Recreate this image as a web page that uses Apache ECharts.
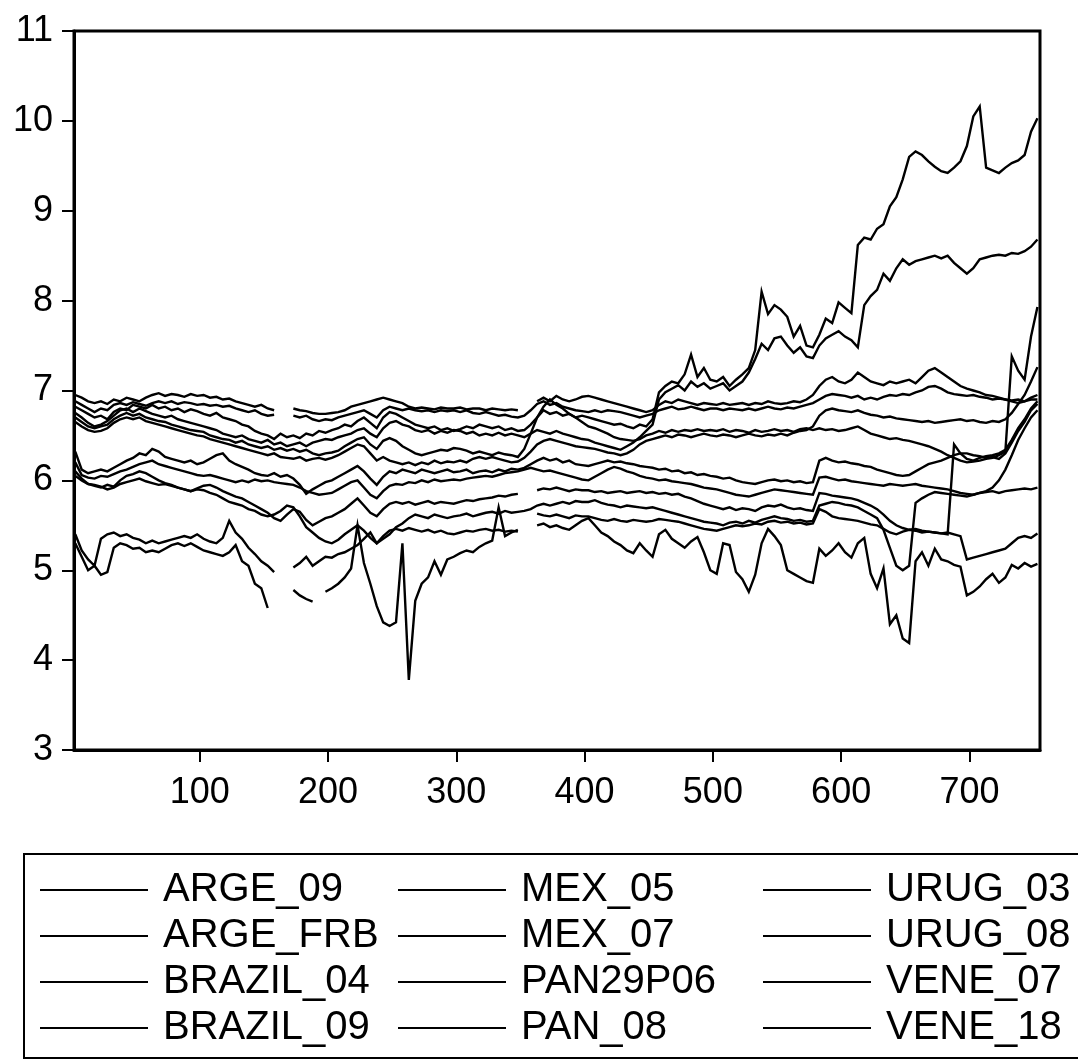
<!DOCTYPE html>
<html>
<head>
<meta charset="utf-8">
<script src="https://cdn.jsdelivr.net/npm/echarts@6/dist/echarts.min.js"></script>
<style>
  html, body { margin: 0; padding: 0; background: #fff; }
  #chart { width: 1078px; height: 1064px; }
</style>
</head>
<body>
<div id="chart"></div>
<script>
// Daily observations, sampled every 5th observation starting at obs 3.
const OBS_START = 3;
const OBS_STEP = 5;

const xTicks = [100, 200, 300, 400, 500, 600, 700];
const yTicks = [3, 4, 5, 6, 7, 8, 9, 10, 11];

const legendColumns = [
  ['ARGE_09', 'ARGE_FRB', 'BRAZIL_04', 'BRAZIL_09'],
  ['MEX_05', 'MEX_07', 'PAN29P06', 'PAN_08'],
  ['URUG_03', 'URUG_08', 'VENE_07', 'VENE_18']
];

const ARGE_09 = [
  6.75, 6.70, 6.64, 6.60, 6.62, 6.66, 6.72, 6.78, 6.80, 6.76,
  6.80, 6.77, 6.74, 6.72, 6.70, 6.72, 6.68, 6.66, 6.64, 6.62,
  6.60, 6.58, 6.56, 6.52, 6.50, 6.48, 6.50, 6.46, 6.44, 6.42,
  6.45, 6.40, 6.42, 6.38, 6.40, 6.42, 6.38, 6.42, 6.44, 6.46,
  6.45, 6.48, 6.50, 6.52, 6.56, 6.58, 6.52, 6.48, 6.58, 6.64,
  6.66, 6.62, 6.60, 6.56, 6.54, 6.56, 6.52, 6.55, 6.53, 6.56,
  6.55, 6.52, 6.54, 6.50, 6.52, 6.50, 6.53, 6.50, 6.52, 6.50,
  6.48, 6.52, 6.56, 6.54, 6.52, 6.55, 6.52, 6.50, 6.48, 6.46,
  6.45, 6.42, 6.40, 6.38, 6.36, 6.34, 6.38, 6.42, 6.48, 6.55,
  6.62, 6.90, 6.98, 7.02, 7.06, 7.00, 7.10, 7.04, 7.08, 7.02,
  7.05, 7.08, 7.00, 7.05, 7.10, 7.20, 7.35, 7.52, 7.45, 7.58,
  7.60, 7.50, 7.42, 7.48, 7.38, 7.36, 7.50, 7.58, 7.62, 7.66,
  7.60, 7.56, 7.48, 7.95, 8.05, 8.12, 8.30, 8.22, 8.36, 8.46,
  8.40, 8.44, 8.46, 8.48, 8.50, 8.47, 8.50, 8.42, 8.36, 8.30,
  8.36, 8.46, 8.48, 8.50, 8.51, 8.50, 8.53, 8.52, 8.55, 8.60, 8.68
];

const ARGE_FRB = [
  6.82, 6.78, 6.74, 6.70, 6.72, 6.68, 6.76, 6.80, 6.78, 6.84,
  6.82, 6.80, 6.84, 6.80, 6.82, 6.78, 6.80, 6.76, 6.79, 6.77,
  6.74, 6.72, 6.75, 6.70, 6.68, 6.66, 6.62, 6.60, 6.55, 6.52,
  6.50, 6.46, 6.52, 6.48, 6.50, 6.47, 6.52, 6.50, 6.55, 6.53,
  6.56, 6.58, 6.62, 6.60, 6.66, 6.70, 6.64, 6.58, 6.70, 6.76,
  6.74, 6.70, 6.66, 6.62, 6.60, 6.58, 6.60, 6.56, 6.58, 6.55,
  6.57, 6.60, 6.58, 6.62, 6.60, 6.58, 6.60, 6.56, 6.58, 6.55,
  6.56, 6.62, 6.70, 6.78, 6.74, 6.76, 6.72, 6.74, 6.70, 6.72,
  6.70, 6.68, 6.66, 6.64, 6.62, 6.63, 6.60, 6.58, 6.62, 6.60,
  6.68, 6.98, 7.05, 7.10, 7.08, 7.18, 7.40, 7.15, 7.25, 7.12,
  7.10, 7.15, 7.05, 7.12, 7.18, 7.25, 7.45, 8.10, 7.85, 7.95,
  7.90, 7.82, 7.60, 7.72, 7.50, 7.48, 7.62, 7.80, 7.75, 7.98,
  7.92, 7.86, 8.62, 8.70, 8.68, 8.80, 8.85, 9.05, 9.15, 9.35,
  9.60, 9.66, 9.62, 9.55, 9.49, 9.44, 9.42, 9.48, 9.55, 9.72,
  10.05, 10.16, 9.48, 9.45, 9.42, 9.48, 9.53, 9.56, 9.62, 9.88, 10.03
];

const BRAZIL_04 = [
  6.65, 6.60, 6.56, 6.54, 6.55, 6.58, 6.64, 6.68, 6.70, 6.68,
  6.70, 6.66, 6.64, 6.62, 6.60, 6.58, 6.56, 6.54, 6.52, 6.50,
  6.49, 6.46, 6.44, 6.42, 6.40, 6.38, 6.36, 6.34, 6.32, 6.30,
  6.28, 6.30, 6.26, 6.25, 6.24, 6.26, 6.22, 6.24, 6.25, 6.23,
  6.25, 6.28, 6.32, 6.36, 6.40, 6.38, 6.30, 6.22, 6.26, 6.22,
  6.20, 6.18, 6.20, 6.17, 6.20, 6.18, 6.22, 6.19, 6.21, 6.20,
  6.22, 6.20, 6.24, 6.26, 6.24, 6.26, 6.24, 6.22, 6.20, 6.21,
  6.25, 6.32, 6.40, 6.44, 6.46, 6.44, 6.42, 6.40, 6.38, 6.37,
  6.36, 6.35, 6.33, 6.31, 6.30, 6.28, 6.30, 6.34, 6.40, 6.44,
  6.46, 6.48, 6.50, 6.48, 6.51, 6.50, 6.48, 6.50, 6.52, 6.50,
  6.49, 6.51, 6.50, 6.48, 6.50, 6.52, 6.50, 6.49, 6.51, 6.50,
  6.52, 6.50, 6.53, 6.55, 6.56, 6.60, 6.72, 6.78, 6.80, 6.78,
  6.77, 6.76, 6.78, 6.75, 6.73, 6.72, 6.70, 6.71, 6.69, 6.68,
  6.67, 6.66, 6.65, 6.66, 6.64, 6.65, 6.66, 6.67, 6.68, 6.66,
  6.67, 6.65, 6.64, 6.66, 6.65, 6.68, 6.75, 6.85, 6.95, 7.10, 7.26
];

const BRAZIL_09 = [
  6.70, 6.65, 6.60, 6.58, 6.60, 6.62, 6.68, 6.72, 6.75, 6.72,
  6.74, 6.70, 6.68, 6.66, 6.65, 6.62, 6.60, 6.58, 6.56, 6.55,
  6.54, 6.50, 6.48, 6.46, 6.45, 6.42, 6.44, 6.40, 6.38, 6.36,
  6.38, 6.34, 6.36, 6.33, 6.35, 6.32, 6.34, 6.30, 6.28, 6.30,
  6.31, 6.33, 6.38, 6.42, 6.46, 6.48, 6.40, 6.35, 6.44, 6.47,
  6.44, 6.38, 6.34, 6.30, 6.28, 6.30, 6.32, 6.34, 6.33, 6.36,
  6.35, 6.33, 6.30, 6.32, 6.30, 6.28, 6.31, 6.29, 6.28, 6.26,
  6.35, 6.52, 6.70, 6.82, 6.90, 6.84, 6.80, 6.74, 6.70, 6.65,
  6.60, 6.58, 6.55, 6.52, 6.48, 6.46, 6.45, 6.44, 6.46, 6.50,
  6.52, 6.55, 6.53, 6.56, 6.54, 6.56, 6.55, 6.57, 6.55, 6.56,
  6.55, 6.57, 6.54, 6.56, 6.55, 6.53, 6.56, 6.54, 6.55, 6.57,
  6.55, 6.56, 6.54, 6.57, 6.58, 6.56, 6.58, 6.56, 6.57, 6.55,
  6.56, 6.58, 6.60, 6.56, 6.52, 6.50, 6.48, 6.46, 6.47, 6.45,
  6.44, 6.42, 6.40, 6.38, 6.35, 6.32, 6.28, 6.25, 6.22, 6.20,
  6.21, 6.22, 6.24, 6.25, 6.28, 6.32, 7.38, 7.22, 7.12, 7.60, 7.93
];

const MEX_05 = [
  6.32, 6.12, 6.08, 6.10, 6.12, 6.10, 6.14, 6.18, 6.22, 6.25,
  6.30, 6.28, 6.35, 6.32, 6.26, 6.24, 6.22, 6.20, 6.22, 6.18,
  6.20, 6.24, 6.28, 6.30, 6.22, 6.18, 6.15, 6.12, 6.08, 6.06,
  6.05, 6.08, 6.04, 6.06, 6.02, 5.95, 5.85, 5.90, 5.94, 5.98,
  6.00, 6.04, 6.08, 6.12, 6.16, 6.10, 6.02, 5.95, 6.04, 6.10,
  6.08, 6.12, 6.10, 6.08, 6.12, 6.10, 6.08, 6.10, 6.12, 6.09,
  6.10, 6.12, 6.08, 6.10, 6.11, 6.09, 6.12, 6.10, 6.13, 6.12,
  6.14, 6.18, 6.22, 6.25, 6.22, 6.24, 6.20, 6.22, 6.18, 6.17,
  6.16, 6.18, 6.20, 6.22, 6.20, 6.21, 6.19, 6.18, 6.16, 6.15,
  6.14, 6.12, 6.13, 6.10, 6.11, 6.08, 6.09, 6.06, 6.07, 6.05,
  6.04, 6.02, 6.03, 6.00, 5.98, 5.97, 5.96, 5.98, 6.00, 6.01,
  5.99, 6.00, 5.98, 5.99, 5.97, 5.98, 6.22, 6.25, 6.22, 6.20,
  6.21, 6.19, 6.18, 6.16, 6.15, 6.12, 6.10, 6.08, 6.06, 6.05,
  6.06, 6.10, 6.14, 6.18, 6.20, 6.22, 6.25, 6.28, 6.30, 6.30,
  6.28, 6.27, 6.25, 6.26, 6.24, 6.30, 6.42, 6.55, 6.65, 6.78, 6.85
];

const MEX_07 = [
  6.95, 6.92, 6.88, 6.86, 6.88, 6.85, 6.90, 6.88, 6.92, 6.90,
  6.88, 6.92, 6.95, 6.97, 6.94, 6.96, 6.95, 6.93, 6.96, 6.94,
  6.95, 6.92, 6.93, 6.90, 6.91, 6.88, 6.86, 6.84, 6.82, 6.84,
  6.80, 6.78, null, null, 6.80, 6.78, 6.77, 6.75, 6.74, 6.74,
  6.75, 6.76, 6.78, 6.82, 6.84, 6.86, 6.88, 6.90, 6.92, 6.90,
  6.88, 6.86, 6.82, 6.80, 6.81, 6.80, 6.79, 6.81, 6.80, 6.80,
  6.81, 6.79, 6.80, 6.80, 6.78, 6.80, 6.79, 6.78, 6.79, 6.78,
  null, null, 6.88, 6.92, 6.88, 6.94, 6.90, 6.88, 6.90, 6.93,
  6.94, 6.92, 6.90, 6.88, 6.86, 6.84, 6.82, 6.80, 6.78, 6.76,
  6.78, 6.84, 6.88, 6.86, 6.90, 6.88, 6.86, 6.84, 6.86, 6.85,
  6.84, 6.86, 6.84, 6.85, 6.86, 6.84, 6.86, 6.85, 6.88, 6.86,
  6.85, 6.86, 6.88, 6.87, 6.90, 6.95, 7.05, 7.12, 7.15, 7.10,
  7.08, 7.12, 7.20, 7.15, 7.10, 7.08, 7.06, 7.10, 7.08, 7.10,
  7.12, 7.08, 7.15, 7.22, 7.25, 7.20, 7.15, 7.10, 7.05, 7.02,
  7.00, 6.98, 6.95, 6.94, 6.92, 6.90, 6.88, 6.86, 6.88, 6.92, 6.95
];

const PAN29P06 = [
  6.88, 6.84, 6.80, 6.76, 6.80, 6.78, 6.84, 6.86, 6.84, 6.87,
  6.85, 6.83, 6.86, 6.88, 6.86, 6.88, 6.85, 6.87, 6.86, 6.84,
  6.85, 6.83, 6.84, 6.82, 6.83, 6.80, 6.78, 6.76, 6.78, 6.74,
  6.72, 6.73, null, null, 6.72, 6.70, 6.72, 6.68, 6.66, 6.68,
  6.67, 6.70, 6.72, 6.74, 6.76, 6.78, 6.74, 6.70, 6.78, 6.82,
  6.80, 6.78, 6.80, 6.78, 6.77, 6.78, 6.76, 6.78, 6.77, 6.78,
  6.76, 6.78, 6.75, 6.74, 6.76, 6.74, 6.72, 6.73, 6.71, 6.70,
  6.72, 6.78, 6.85, 6.88, 6.84, 6.86, 6.82, 6.80, 6.78, 6.77,
  6.76, 6.78, 6.76, 6.78, 6.77, 6.76, 6.74, 6.72, 6.70, 6.72,
  6.74, 6.78, 6.80, 6.82, 6.79, 6.80, 6.82, 6.80, 6.78, 6.80,
  6.80, 6.78, 6.80, 6.79, 6.78, 6.80, 6.78, 6.80, 6.82, 6.80,
  6.79, 6.81, 6.80, 6.82, 6.84, 6.86, 6.90, 6.94, 6.96, 6.95,
  6.94, 6.92, 6.94, 6.90, 6.92, 6.90, 6.93, 6.95, 6.94, 6.96,
  6.95, 6.98, 7.00, 7.04, 7.05, 7.02, 6.98, 6.96, 6.95, 6.94,
  6.95, 6.93, 6.92, 6.90, 6.91, 6.90, 6.89, 6.90, 6.88, 6.90, 6.90
];

const PAN_08 = [
  6.20, 6.06, 6.03, 6.02, 6.05, 6.04, 6.07, 6.10, 6.12, 6.15,
  6.18, 6.20, 6.22, 6.18, 6.16, 6.14, 6.12, 6.10, 6.08, 6.06,
  6.05, 6.06, 6.04, 6.02, 6.00, 5.98, 6.00, 5.98, 6.01, 5.99,
  6.00, 5.98, 5.97, 5.96, 5.95, 5.92, 5.88, 5.86, 5.84, 5.85,
  5.86, 5.90, 5.94, 5.98, 6.00, 5.92, 5.84, 5.80, 5.88, 5.94,
  5.96, 5.95, 5.98, 5.97, 6.00, 5.98, 6.01, 5.99, 6.00, 6.01,
  6.00, 6.02, 6.03, 6.04, 6.05, 6.04, 6.06, 6.08, 6.09, 6.10,
  6.12, 6.14, 6.12, 6.10, 6.11, 6.09, 6.07, 6.05, 6.03, 6.01,
  6.00, 6.04, 6.08, 6.12, 6.15, 6.13, 6.10, 6.08, 6.05, 6.03,
  6.02, 6.00, 6.01, 5.99, 5.98, 5.97, 5.96, 5.94, 5.92, 5.91,
  5.90, 5.88, 5.86, 5.84, 5.83, 5.82, 5.84, 5.86, 5.88, 5.90,
  5.89, 5.88, 5.87, 5.86, 5.85, 5.84, 6.03, 6.04, 6.02, 6.00,
  6.01, 5.99, 5.98, 5.97, 5.96, 5.95, 5.94, 5.96, 5.95, 5.94,
  5.95, 5.96, 5.94, 5.93, 5.92, 5.91, 5.90, 5.88, 5.86, 5.85,
  5.84, 5.86, 5.87, 5.88, 5.86, 5.88, 5.89, 5.90, 5.91, 5.90, 5.92
];

const URUG_03 = [
  6.05, 6.00, 5.96, 5.95, 5.93, 5.90, 5.92, 5.96, 5.98, 6.00,
  6.02, 5.99, 5.97, 5.95, 5.96, 5.94, 5.92, 5.90, 5.88, 5.90,
  5.89, 5.86, 5.84, 5.80, 5.76, 5.74, 5.72, 5.68, 5.66, 5.62,
  5.60, 5.62, 5.66, 5.72, 5.70, 5.60, 5.48, 5.42, 5.36, 5.32,
  5.30, 5.34, 5.40, 5.45, 5.50, 5.44, 5.36, 5.30, 5.38, 5.44,
  5.46, 5.44, 5.47, 5.45, 5.43, 5.45, 5.42, 5.44, 5.41, 5.40,
  5.42, 5.44, 5.43, 5.45, 5.46, 5.44, 5.45, 5.43, 5.44, 5.43,
  null, null, 5.63, 5.61, 5.60, 5.62, 5.60, 5.58, 5.61, 5.60,
  5.60, 5.58, 5.56, 5.55, 5.57, 5.55, 5.54, 5.56, 5.55, 5.54,
  5.55, 5.57, 5.56, 5.55, 5.54, 5.52, 5.50, 5.48, 5.46, 5.45,
  5.44, 5.46, 5.48, 5.50, 5.49, 5.50, 5.52, 5.51, 5.54, 5.55,
  5.53, 5.54, 5.52, 5.53, 5.51, 5.52, 5.68, 5.65, 5.60, 5.58,
  5.57, 5.56, 5.55, 5.53, 5.51, 5.50, 5.46, 5.42, 5.40, 5.43,
  5.45, 5.44, 5.42, 5.43, 5.42, 5.41, 5.42, 5.40, 5.38, 5.12,
  5.14, 5.16, 5.18, 5.20, 5.22, 5.24, 5.30, 5.36, 5.38, 5.36, 5.41
];

const URUG_08 = [
  6.10, 6.02, 5.96, 5.94, 5.92, 5.95, 5.93, 6.00, 6.05, 6.07,
  6.10, 6.08, 6.04, 6.00, 5.97, 5.95, 5.92, 5.90, 5.88, 5.91,
  5.94, 5.95, 5.92, 5.88, 5.85, 5.82, 5.80, 5.76, 5.72, 5.68,
  5.64, 5.58, 5.55, 5.62, 5.68, 5.65, 5.56, 5.50, 5.54, 5.58,
  5.60, 5.64, 5.68, 5.74, 5.80, 5.72, 5.64, 5.60, 5.68, 5.74,
  5.76, 5.74, 5.76, 5.73, 5.75, 5.77, 5.74, 5.76, 5.75, 5.74,
  5.76, 5.78, 5.77, 5.79, 5.80, 5.81, 5.83, 5.82, 5.84, 5.85,
  null, null, 5.89, 5.91, 5.90, 5.92, 5.90, 5.88, 5.90, 5.89,
  5.89, 5.87, 5.88, 5.86, 5.87, 5.88, 5.86, 5.87, 5.88, 5.86,
  5.87, 5.85, 5.86, 5.84, 5.85, 5.82, 5.80, 5.77, 5.74, 5.72,
  5.70, 5.68, 5.70, 5.67, 5.69, 5.68, 5.66, 5.70, 5.72, 5.71,
  5.73, 5.70, 5.68, 5.69, 5.67, 5.66, 5.86, 5.85, 5.83, 5.82,
  5.81, 5.80, 5.78, 5.75, 5.72, 5.68, 5.62, 5.55, 5.50, 5.47,
  5.45, 5.46, 5.44, 5.43, 5.42, 5.41, 5.40, 6.40, 6.30, 6.24,
  6.22, 6.25, 6.27, 6.28, 6.30, 6.34, 6.45, 6.58, 6.68, 6.80, 6.88
];

const VENE_07 = [
  5.40, 5.22, 5.12, 5.05, 5.35, 5.40, 5.42, 5.38, 5.40, 5.36,
  5.34, 5.30, 5.33, 5.30, 5.32, 5.34, 5.36, 5.38, 5.36, 5.40,
  5.35, 5.32, 5.30, 5.36, 5.55, 5.42, 5.35, 5.25, 5.18, 5.10,
  5.05, 4.98, null, null, 5.03, 5.08, 5.15, 5.05, 5.10, 5.15,
  5.14, 5.18, 5.20, 5.24, 5.28, 5.35, 5.42, 5.30, 5.35, 5.40,
  5.48, 5.52, 5.58, 5.62, 5.60, 5.58, 5.62, 5.60, 5.58, 5.60,
  5.61, 5.63, 5.60, 5.62, 5.64, 5.65, 5.63, 5.66, 5.64, 5.65,
  5.66, 5.68, 5.72, 5.74, 5.72, 5.74, 5.76, 5.74, 5.77, 5.76,
  5.76, 5.78, 5.75, 5.73, 5.72, 5.70, 5.72, 5.71, 5.70, 5.69,
  5.70, 5.68, 5.66, 5.64, 5.62, 5.60, 5.58, 5.56, 5.54, 5.53,
  5.52, 5.50, 5.53, 5.54, 5.52, 5.55, 5.53, 5.56, 5.58, 5.60,
  5.58, 5.57, 5.55, 5.56, 5.54, 5.55, 5.72, 5.74, 5.76, 5.75,
  5.73, 5.72, 5.70, 5.66, 5.62, 5.58, 5.45, 5.25, 5.05, 5.00,
  5.05, 5.75, 5.80, 5.84, 5.87, 5.86, 5.85, 5.84, 5.83, 5.82,
  5.84, 5.86, 5.88, 5.92, 6.00, 6.12, 6.28, 6.45, 6.58, 6.70, 6.78
];

const VENE_18 = [
  5.30, 5.15, 5.00, 5.05, 4.95, 4.98, 5.25, 5.30, 5.28, 5.24,
  5.25, 5.20, 5.22, 5.20, 5.24, 5.28, 5.30, 5.27, 5.30, 5.26,
  5.22, 5.20, 5.18, 5.16, 5.20, 5.28, 5.10, 5.05, 4.85, 4.80,
  4.58, null, null, null, 4.78, 4.72, 4.68, 4.65, null, 4.76,
  4.80, 4.85, 4.92, 5.02, 5.50, 5.08, 4.85, 4.60, 4.42, 4.38,
  4.42, 5.30, 3.78, 4.66, 4.85, 4.92, 5.10, 4.95, 5.12, 5.15,
  5.19, 5.22, 5.20, 5.26, 5.30, 5.33, 5.70, 5.38, 5.42, 5.45,
  null, null, 5.50, 5.52, 5.48, 5.50, 5.47, 5.45, 5.50, 5.55,
  5.58, 5.50, 5.42, 5.38, 5.32, 5.28, 5.22, 5.19, 5.30, 5.22,
  5.15, 5.40, 5.45, 5.35, 5.30, 5.25, 5.32, 5.37, 5.20, 5.00,
  4.96, 5.30, 5.28, 4.98, 4.90, 4.76, 4.95, 5.30, 5.46, 5.38,
  5.28, 5.00, 4.96, 4.92, 4.88, 4.86, 5.24, 5.16, 5.22, 5.30,
  5.20, 5.14, 5.30, 5.36, 4.96, 4.80, 5.02, 4.40, 4.50, 4.24,
  4.19, 5.10, 5.20, 5.05, 5.24, 5.12, 5.10, 5.06, 5.04, 4.72,
  4.76, 4.82, 4.90, 4.96, 4.86, 4.92, 5.06, 5.02, 5.08, 5.04, 5.07
];

const seriesValues = {
  ARGE_09, ARGE_FRB, BRAZIL_04, BRAZIL_09, MEX_05, MEX_07,
  PAN29P06, PAN_08, URUG_03, URUG_08, VENE_07, VENE_18
};

const FONT = '"Liberation Sans", Arial, Helvetica, sans-serif';

// pair each value with its observation number; null leaves a gap in the line
function toPoints(values) {
  return values.map((v, i) => [OBS_START + OBS_STEP * i, v]);
}

const series = Object.keys(seriesValues).map(name => ({
  name,
  type: 'line',
  data: toPoints(seriesValues[name]),
  showSymbol: false,
  symbol: 'none',
  connectNulls: false,
  lineStyle: { color: '#000', width: 2.4, join: 'miter' },
  itemStyle: { color: '#000' },
  emphasis: { disabled: true }
}));

const legendLeft = [40, 398, 763];
const legend = legendColumns.map((names, c) => ({
  data: names,
  orient: 'vertical',
  left: legendLeft[c],
  top: 867,
  padding: 0,
  itemGap: 0,
  itemWidth: 108,
  itemHeight: 2,
  icon: 'rect',
  selectedMode: false,
  itemStyle: { color: '#000' },
  textStyle: {
    fontFamily: FONT,
    fontSize: 40,
    lineHeight: 46,
    color: '#000',
    padding: [0, 0, 0, 10]
  }
}));

const chart = echarts.init(document.getElementById('chart'), null, { renderer: 'canvas' });
chart.setOption({
  animation: false,
  backgroundColor: '#fff',
  grid: {
    left: 74, right: 38, top: 31, bottom: 314,
    show: true, borderColor: '#000', borderWidth: 3, backgroundColor: 'transparent'
  },
  xAxis: {
    type: 'value',
    min: 2,
    max: 755,
    axisLine: { show: true, onZero: false, lineStyle: { color: '#000', width: 3 } },
    axisTick: { show: true, customValues: xTicks, length: 12, lineStyle: { color: '#000', width: 2 } },
    axisLabel: { customValues: xTicks, color: '#000', fontSize: 36, fontFamily: FONT, margin: 25 },
    splitLine: { show: false }
  },
  yAxis: {
    type: 'value',
    min: yTicks[0],
    max: yTicks[yTicks.length - 1],
    interval: 1,
    axisLine: { show: true, onZero: false, lineStyle: { color: '#000', width: 3 } },
    axisTick: { show: true, length: 12, lineStyle: { color: '#000', width: 2 } },
    axisLabel: { color: '#000', fontSize: 36, fontFamily: FONT, margin: 21 },
    splitLine: { show: false }
  },
  legend,
  graphic: [{
    type: 'rect',
    shape: { x: 24, y: 854, width: 1100, height: 204 },
    style: { fill: 'none', stroke: '#000', lineWidth: 2 },
    silent: true,
    z: 0
  }],
  series
});
</script>
</body>
</html>
